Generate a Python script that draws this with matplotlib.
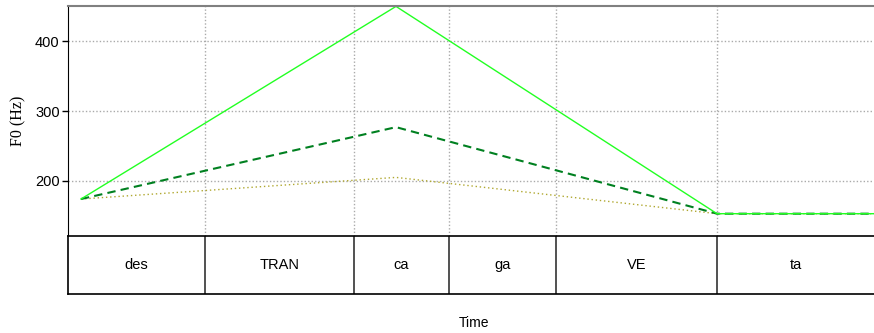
import matplotlib
matplotlib.use("Agg")
import matplotlib.pyplot as plt

# --- data ---
segments = ["des", "TRAN", "ca", "ga", "VE", "ta"]
boundaries = [0.0, 0.137, 0.286, 0.381, 0.488, 0.649, 0.806]
times = [0.013, 0.328, 0.649, 0.806]
f0_solid = [174, 450, 153, 153]
f0_dashed = [174, 277, 153, 153]
f0_dotted = [174, 205, 153, 153]
yticks = [200, 300, 400]

W, H = 874, 333
fig = plt.figure(figsize=(W / 100, H / 100), dpi=100)

left = 68 / W
right = 1.0
top_px, mid_px, bot_px = 5.7, 236.3, 294
ax = fig.add_axes([left, 1 - mid_px / H, right - left, (mid_px - top_px) / H])
tier = fig.add_axes([left, 1 - bot_px / H, right - left, (bot_px - mid_px) / H])

ax.plot(times, f0_dotted, color="#b0a830", lw=1.0, ls=(0, (1, 2)))
ax.plot(times, f0_dashed, color="#008020", lw=1.5, ls=(0, (4, 2.5)))
ax.plot(times, f0_solid, color="#22ff22", lw=1.0)

ax.set_xlim(boundaries[0], boundaries[-1])
ax.set_ylim(120.6, 451)
ax.set_yticks(yticks)
ax.set_yticklabels([str(v) for v in yticks], family="Liberation Sans", fontsize=10.5)
ax.set_xticks(boundaries[1:-1])
ax.tick_params(axis="x", length=0, labelbottom=False)
ax.tick_params(axis="y", direction="out", length=4, width=1, pad=2)
ax.grid(True, color="#aaaaaa", ls=(0, (1, 1.5)), lw=1)
ax.spines["right"].set_visible(False)
ax.spines["bottom"].set_visible(False)
ax.spines["top"].set_color("#808080")
ax.spines["top"].set_linewidth(1.5)
ax.set_ylabel("F0 (Hz)", family="Liberation Serif", fontsize=11.5, labelpad=6)

tier.set_xlim(boundaries[0], boundaries[-1])
tier.set_ylim(0, 1)
tier.set_xticks([])
tier.set_yticks([])
tier.spines["right"].set_visible(False)
for s in ["top", "bottom", "left"]:
    tier.spines[s].set_color("black")
    tier.spines[s].set_linewidth(1.2)
for b in boundaries[1:-1]:
    tier.axvline(b, color="#333333", lw=1.2)
for i, seg in enumerate(segments):
    tier.text((boundaries[i] + boundaries[i + 1]) / 2, 0.5, seg,
              ha="center", va="center", family="Liberation Sans", fontsize=10.5)

fig.text(474 / W, 1 - 323 / H, "Time", ha="center", va="center",
         family="Liberation Sans", fontsize=10)

fig.savefig("out.png", dpi=100)
